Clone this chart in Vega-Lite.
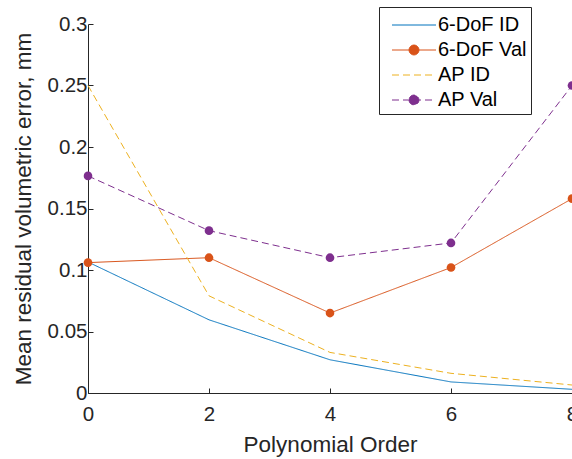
{
  "$schema": "https://vega.github.io/schema/vega-lite/v6.json",
  "width": 484,
  "height": 369,
  "autosize": {"type": "none"},
  "padding": {"left": 88, "top": 24, "right": 0, "bottom": 66},
  "background": "white",
  "config": {
    "view": {"stroke": null},
    "font": "Liberation Sans",
    "axis": {
      "grid": false,
      "domainColor": "#262626",
      "domainWidth": 1,
      "tickColor": "#262626",
      "tickWidth": 1,
      "tickSize": -5,
      "labelColor": "#262626",
      "labelFont": "Liberation Sans",
      "labelFontSize": 20.5,
      "labelFlush": false,
      "labelOverlap": false,
      "labelBound": false,
      "titleColor": "#262626",
      "titleFont": "Liberation Sans",
      "titleFontSize": 22.5,
      "titleFontWeight": "normal"
    },
    "legend": {
      "orient": "none",
      "legendX": 291,
      "legendY": -17,
      "padding": 4,
      "strokeColor": "#262626",
      "fillColor": "white",
      "cornerRadius": 0,
      "labelFont": "Liberation Sans",
      "labelFontSize": 20,
      "labelColor": "#000000",
      "symbolSize": 121,
      "symbolStrokeWidth": 1,
      "symbolOffset": 21,
      "labelOffset": 14,
      "rowPadding": 5,
      "titleFontSize": 1,
      "titlePadding": 3
    }
  },
  "data": {
    "values": [
      {"order": 0, "series": "6-DoF ID", "value": 0.1065},
      {"order": 2, "series": "6-DoF ID", "value": 0.0595},
      {"order": 4, "series": "6-DoF ID", "value": 0.027},
      {"order": 6, "series": "6-DoF ID", "value": 0.009},
      {"order": 8, "series": "6-DoF ID", "value": 0.003},
      {"order": 0, "series": "6-DoF Val", "value": 0.106},
      {"order": 2, "series": "6-DoF Val", "value": 0.110},
      {"order": 4, "series": "6-DoF Val", "value": 0.065},
      {"order": 6, "series": "6-DoF Val", "value": 0.102},
      {"order": 8, "series": "6-DoF Val", "value": 0.158},
      {"order": 0, "series": "AP ID", "value": 0.250},
      {"order": 2, "series": "AP ID", "value": 0.079},
      {"order": 4, "series": "AP ID", "value": 0.033},
      {"order": 6, "series": "AP ID", "value": 0.016},
      {"order": 8, "series": "AP ID", "value": 0.0065},
      {"order": 0, "series": "AP Val", "value": 0.1765},
      {"order": 2, "series": "AP Val", "value": 0.132},
      {"order": 4, "series": "AP Val", "value": 0.110},
      {"order": 6, "series": "AP Val", "value": 0.122},
      {"order": 8, "series": "AP Val", "value": 0.250}
    ]
  },
  "encoding": {
    "x": {
      "field": "order",
      "type": "quantitative",
      "scale": {"domain": [0, 8], "nice": false, "zero": false},
      "axis": {"values": [0, 2, 4, 6, 8], "title": "Polynomial Order", "labelPadding": 16, "titlePadding": 9}
    },
    "y": {
      "field": "value",
      "type": "quantitative",
      "scale": {"domain": [0, 0.3], "nice": false},
      "axis": {"values": [0, 0.05, 0.1, 0.15, 0.2, 0.25, 0.3], "format": "~g", "title": "Mean residual volumetric error, mm", "labelPadding": 6, "titlePadding": 12}
    },
    "color": {
      "field": "series",
      "type": "nominal",
      "scale": {"domain": ["6-DoF ID", "6-DoF Val", "AP ID", "AP Val"], "range": ["#0072BD", "#D95319", "#EDB120", "#7E2F8E"]},
      "legend": {
        "title": " ",
        "encode": {
          "symbols": {
            "update": {
              "shape": {"signal": "indexof(datum.value, 'Val') >= 0 ? 'M-4,0L4,0M-0.9,0A0.9,0.9,0,1,0,0.9,0A0.9,0.9,0,1,0,-0.9,0Z' : 'M-4,0L4,0'"},
              "fill": {"scale": "color", "field": "value"},
              "stroke": {"scale": "color", "field": "value"},
              "strokeWidth": {"value": 1}
            }
          }
        }
      }
    }
  },
  "layer": [
    {
      "mark": {"type": "line", "strokeWidth": 1},
      "encoding": {
        "strokeDash": {
          "field": "series",
          "type": "nominal",
          "scale": {"domain": ["6-DoF ID", "6-DoF Val", "AP ID", "AP Val"], "range": [[1, 0], [1, 0], [7, 4], [7, 4]]},
          "legend": {"title": " "}
        }
      }
    },
    {
      "transform": [{"filter": {"field": "series", "oneOf": ["6-DoF Val", "AP Val"]}}],
      "mark": {"type": "point", "filled": true, "size": 75, "opacity": 1}
    }
  ]
}
